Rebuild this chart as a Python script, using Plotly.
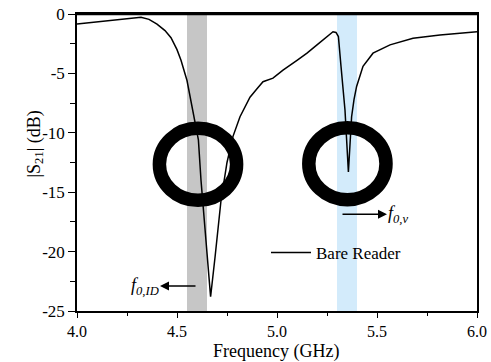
import plotly.graph_objects as go

freq = [4.00, 4.10, 4.20, 4.28, 4.32, 4.36, 4.40, 4.44, 4.47, 4.50, 4.52, 4.55, 4.58, 4.607,
        4.62, 4.64, 4.668, 4.69, 4.72, 4.75, 4.78, 4.815, 4.865, 4.90, 4.93, 4.98, 5.03,
        5.10, 5.15, 5.20, 5.23, 5.26, 5.28, 5.295, 5.307, 5.32, 5.34, 5.357, 5.373, 5.385,
        5.398, 5.43, 5.48, 5.565, 5.68, 5.815, 6.00]
s21 = [-0.84, -0.66, -0.47, -0.30, -0.27, -0.45, -0.85, -1.4, -2.0, -3.0, -3.9, -5.6, -8.1, -10.6,
       -14.0, -18.1, -23.8, -20.5, -15.7, -12.5, -10.3, -8.65, -7.0, -6.3, -5.7, -5.4, -4.72,
       -3.9, -3.3, -2.6, -2.19, -1.75, -1.49, -1.55, -1.9, -4.4, -8.1, -13.3, -8.65, -7.2,
       -6.1, -4.4, -3.3, -2.6, -2.05, -1.77, -1.49]

xticks = [4.0, 4.5, 5.0, 5.5, 6.0]
xticklabels = ["4.0", "4.5", "5.0", "5.5", "6.0"]
yticks = [0, -5, -10, -15, -20, -25]
yticklabels = ["0", "-5", "-10", "-15", "-20", "-25"]

band_id = [4.55, 4.65]
band_v = [5.30, 5.40]
circle_centers = [(4.605, -12.65), (5.352, -12.6)]
circle_rx = 0.193
circle_ry = 3.03

FONT = "Liberation Serif"

W, H = 491, 362
L, R, T, B = 77, 14, 14, 51
pw, ph = W - L - R, H - T - B

def px_x(p):
    return (p - L) / pw

def px_y(p):
    return (H - B - p) / ph

fig = go.Figure()
fig.add_trace(go.Scatter(x=freq, y=s21, mode="lines", name="Bare Reader",
                         line=dict(color="black", width=1.5)))

fig.add_shape(type="rect", xref="x", yref="paper", x0=band_id[0], x1=band_id[1], y0=0, y1=1,
              fillcolor="#c6c6c6", line_width=0, layer="below")
fig.add_shape(type="rect", xref="x", yref="paper", x0=band_v[0], x1=band_v[1], y0=0, y1=1,
              fillcolor="#d3ebfb", line_width=0, layer="below")

for cx, cy in circle_centers:
    fig.add_shape(type="circle", xref="x", yref="y",
                  x0=cx - circle_rx, x1=cx + circle_rx, y0=cy - circle_ry, y1=cy + circle_ry,
                  line=dict(color="black", width=13.5), layer="above")

# top border thicker
fig.add_shape(type="line", xref="paper", yref="paper", x0=0, x1=1, y0=1, y1=1,
              line=dict(color="black", width=2.5))

# arrows
fig.add_annotation(x=4.415, y=-22.9, ax=4.60, ay=-22.9, xref="x", yref="y", axref="x", ayref="y",
                   text="", showarrow=True, arrowhead=2, arrowsize=1.2, arrowwidth=1.5, arrowcolor="black")
fig.add_annotation(x=4.418, y=-22.9, xref="x", yref="y", xanchor="right", yanchor="middle",
                   text="<i>f</i><sub><i>0,ID</i></sub>", showarrow=False,
                   font=dict(family=FONT, size=18, color="black"))
fig.add_annotation(x=5.55, y=-16.85, ax=5.32, ay=-16.85, xref="x", yref="y", axref="x", ayref="y",
                   text="", showarrow=True, arrowhead=2, arrowsize=1.2, arrowwidth=1.5, arrowcolor="black")
fig.add_annotation(x=5.545, y=-16.85, xref="x", yref="y", xanchor="left", yanchor="middle",
                   text="<i>f</i><sub><i>0,v</i></sub>", showarrow=False,
                   font=dict(family=FONT, size=18, color="black"))

# axis titles
fig.add_annotation(x=px_x(21), y=px_y(144), xref="paper", yref="paper",
                   text="|S<sub>21</sub>| (dB)", textangle=-90, showarrow=False,
                   font=dict(family=FONT, size=18, color="black"))
fig.add_annotation(x=px_x(276), y=px_y(351), xref="paper", yref="paper",
                   text="Frequency (GHz)", showarrow=False, yanchor="middle",
                   font=dict(family=FONT, size=18, color="black"))

fig.update_layout(
    width=W, height=H, margin=dict(l=L, r=R, t=T, b=B, autoexpand=False),
    paper_bgcolor="white", plot_bgcolor="white",
    font=dict(family=FONT, size=16, color="black"),
    showlegend=True,
    legend=dict(x=px_x(266), y=px_y(235), xanchor="left", yanchor="top",
                bgcolor="rgba(0,0,0,0)", font=dict(family=FONT, size=17, color="black"),
                itemwidth=40, tracegroupgap=0),
    xaxis=dict(range=[4.0, 6.0], tickvals=xticks, ticktext=xticklabels, automargin=False,
               ticks="outside", ticklen=5, tickwidth=1.2, tickcolor="black",
               minor=dict(dtick=0.25, ticks="outside", ticklen=3, tickwidth=1, tickcolor="black"),
               showline=True, linecolor="black", linewidth=1.5, mirror=True, showgrid=False,
               zeroline=False, tickfont=dict(family=FONT, size=16)),
    yaxis=dict(range=[-25, 0], tickvals=yticks, ticktext=yticklabels, automargin=False,
               ticks="outside", ticklen=7, tickwidth=1.2, tickcolor="black",
               minor=dict(dtick=2.5, ticks="outside", ticklen=5, tickwidth=1, tickcolor="black"),
               showline=True, linecolor="black", linewidth=1.5, mirror=True, showgrid=False,
               zeroline=False, tickfont=dict(family=FONT, size=17)),
)

fig.write_html("out.html")
